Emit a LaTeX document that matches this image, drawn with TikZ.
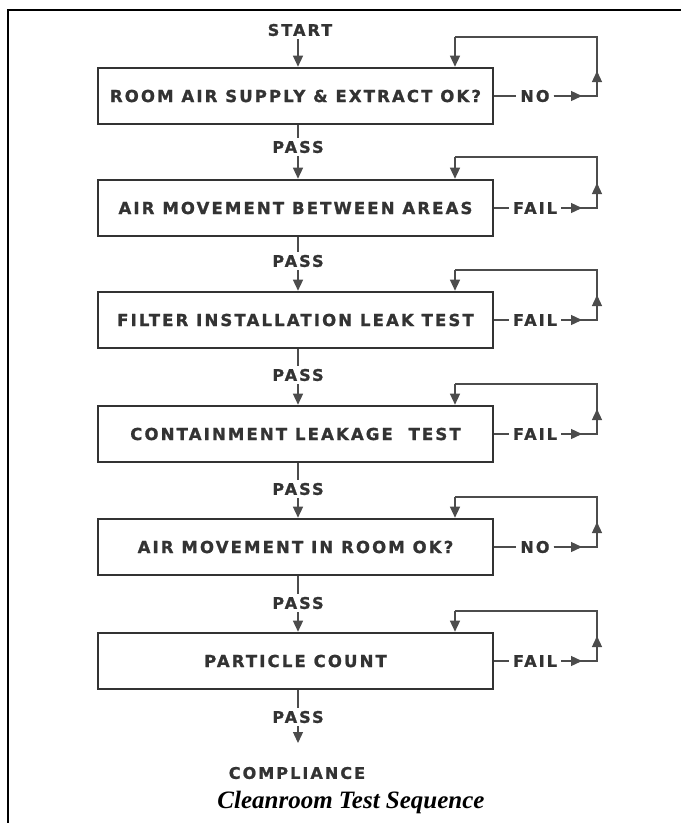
\documentclass[tikz,border=0pt]{standalone}
\usepackage{fontspec}
\usetikzlibrary{arrows.meta,calc}
\newfontfamily\lblfont[LetterSpace=13,FakeBold=1.2]{DejaVu Sans Bold}
\newfontfamily\capfont{Liberation Serif}
\begin{document}
\begin{tikzpicture}[x=1pt,y=-1pt,
  box/.style={draw=black!80,line width=2.6pt,minimum width=395pt,minimum height=56pt,inner sep=0pt,
    font=\lblfont\fontsize{16.5}{16.5}\selectfont,text=black!80},
  lbl/.style={font=\lblfont\fontsize{16}{16}\selectfont,text=black!80,inner sep=3pt},
  faillbl/.style={lbl,inner xsep=4pt},
  conn/.style={draw=black!70,line width=1.3pt},
  arr/.style={-{Triangle[length=11pt,width=10pt]}}
]
\useasboundingbox (0,0) rectangle (681,823);
\draw[line width=2pt] (8,823) -- (8,10) -- (681,10);

\node[lbl] (start) at (300,30) {START};
\node[box] (b1) at (295.5,96) {ROOM AIR SUPPLY \& EXTRACT OK?};
\node[box] (b2) at (295.5,208) {AIR MOVEMENT BETWEEN AREAS};
\node[box] (b3) at (295.5,320) {FILTER INSTALLATION LEAK TEST};
\node[box] (b4) at (295.5,434) {CONTAINMENT LEAKAGE\ \ TEST};
\node[box] (b5) at (295.5,547) {AIR MOVEMENT IN ROOM OK?};
\node[box] (b6) at (295.5,661) {PARTICLE COUNT};

\node[lbl] (p1) at (298,147) {PASS};
\node[lbl] (p2) at (298,261) {PASS};
\node[lbl] (p3) at (298,375) {PASS};
\node[lbl] (p4) at (298,489) {PASS};
\node[lbl] (p5) at (298,603) {PASS};
\node[lbl] (p6) at (298,717) {PASS};
\node[lbl] (comp) at (297,773) {COMPLIANCE};
\node[font=\capfont\bfseries\itshape\fontsize{25}{25}\selectfont] (cap) at (351,802) {Cleanroom Test Sequence};

\draw[conn,arr] (start.south -| p1) -- (p1 |- b1.north);
\foreach \i/\j in {1/2,2/3,3/4,4/5,5/6}{
  \draw[conn] (p\i |- b\i.south) -- (p\i.north);
  \draw[conn,arr] (p\i.south) -- (p\i |- b\j.north);
}
\draw[conn] (p6 |- b6.south) -- (p6.north);
\coordinate (end6) at (298,743);
\draw[conn,arr] (p6.south) -- (end6);

\foreach \i/\t/\top in {1/NO/37,2/FAIL/157,3/FAIL/270,4/FAIL/384,5/NO/497,6/FAIL/611}{
  \node[faillbl] (f\i) at (535,0 |- b\i.center) {\t};
  \coordinate (r\i) at (597,0 |- b\i.center);
  \coordinate (u\i) at (597,\top);
  \coordinate (d\i) at (455,\top);
  \coordinate (ah\i) at ($(r\i)+(-15,0)$);
  \coordinate (av\i) at ($(r\i)+(0,-25)$);
  \draw[conn] (b\i.east) -- (f\i.west);
  \draw[conn] (f\i.east) -- (r\i) -- (u\i) -- (d\i);
  \draw[conn,arr] (d\i) -- (d\i |- b\i.north);
  \draw[conn,arr] (f\i.east) -- (ah\i);
  \draw[conn,arr] (r\i) -- (av\i);
}
\end{tikzpicture}
\end{document}
